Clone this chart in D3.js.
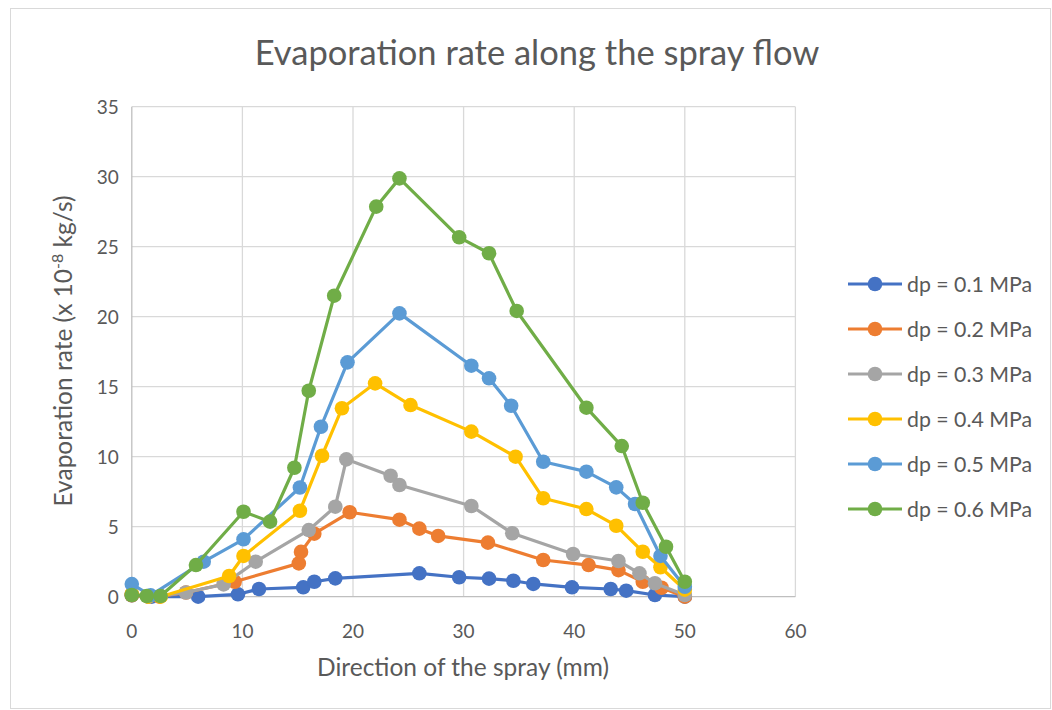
<!DOCTYPE html>
<html><head><meta charset="utf-8">
<script src="https://cdn.jsdelivr.net/npm/d3@7"></script>
<style>body{margin:0;background:#fff;} text{font-family:Lato,"Open Sans",sans-serif;}</style>
</head><body><svg id="c" width="1052" height="710"></svg>
<script>
const seriesNames = ["dp = 0.1 MPa","dp = 0.2 MPa","dp = 0.3 MPa","dp = 0.4 MPa","dp = 0.5 MPa","dp = 0.6 MPa"];
const seriesColors = ["#4472C4","#ED7D31","#A5A5A5","#FFC000","#5B9BD5","#70AD47"];
const xTicks = [0,10,20,30,40,50,60];
const yTicks = [0,5,10,15,20,25,30,35];
const s01 = [[0,0.1],[1.8,0],[6.0,0],[9.6,0.17],[11.5,0.55],[15.5,0.67],[16.5,1.07],[18.4,1.31],[26.0,1.67],[29.6,1.39],[32.3,1.29],[34.5,1.14],[36.3,0.91],[39.8,0.67],[43.3,0.55],[44.7,0.43],[47.3,0.12],[50.0,0]];
const s02 = [[0,0.1],[1.5,0],[2.5,0],[4.9,0.3],[9.3,1.07],[15.1,2.38],[15.3,3.2],[16.5,4.5],[19.7,6.03],[24.2,5.5],[26.0,4.86],[27.7,4.34],[32.2,3.86],[37.2,2.62],[41.3,2.26],[44.0,1.9],[46.2,1.07],[47.9,0.64],[50.0,0]];
const s03 = [[0,0.2],[1.5,0],[2.6,0.05],[4.9,0.3],[8.3,0.88],[11.2,2.5],[16.0,4.76],[18.4,6.43],[19.4,9.81],[23.4,8.64],[24.2,7.98],[30.7,6.48],[34.4,4.53],[39.9,3.05],[44.0,2.55],[45.9,1.67],[47.3,0.96],[50.0,0.12]];
const s04 = [[0,0.2],[1.5,0],[2.6,0],[8.8,1.48],[10.1,2.91],[15.2,6.14],[17.2,10.07],[19.0,13.46],[22.0,15.24],[25.2,13.69],[30.7,11.79],[34.7,10.0],[37.2,7.03],[41.1,6.26],[43.8,5.07],[46.2,3.21],[47.8,2.1],[50.0,0.5]];
const s05 = [[0,0.9],[1.7,0.1],[6.5,2.5],[10.1,4.1],[15.2,7.8],[17.1,12.14],[19.5,16.74],[24.2,20.24],[30.7,16.5],[32.3,15.6],[34.3,13.64],[37.2,9.64],[41.1,8.93],[43.8,7.81],[45.5,6.62],[47.8,2.91],[50.0,0.71]];
const s06 = [[0,0.12],[1.35,0.05],[2.6,0.05],[5.8,2.26],[10.1,6.07],[12.5,5.36],[14.7,9.21],[16.0,14.71],[18.3,21.5],[22.1,27.86],[24.2,29.88],[29.6,25.67],[32.3,24.53],[34.8,20.41],[41.1,13.5],[44.3,10.76],[46.2,6.71],[48.3,3.57],[50.0,1.07]];
const allSeries = [s01,s02,s03,s04,s05,s06];

const svg = d3.select("#c");
svg.append("rect").attr("x",10.5).attr("y",8.5).attr("width",1040).attr("height",700).attr("fill","#fff").attr("stroke","#d9d9d9");
const x = d3.scaleLinear().domain([0,60]).range([131.8,795.4]);
const y = d3.scaleLinear().domain([0,35]).range([596.7,106.7]);
const txt = "#595959";

svg.append("g").selectAll("line").data(yTicks.filter(d=>d>0)).join("line")
  .attr("x1",x(0)).attr("x2",x(60)).attr("y1",d=>y(d)).attr("y2",d=>y(d)).attr("stroke","#d9d9d9").attr("stroke-width",1.3);
svg.append("g").selectAll("line").data(xTicks.filter(d=>d>0)).join("line")
  .attr("y1",y(0)).attr("y2",y(35)).attr("x1",d=>x(d)).attr("x2",d=>x(d)).attr("stroke","#d9d9d9").attr("stroke-width",1.3);
svg.append("line").attr("x1",x(0)).attr("x2",x(0)).attr("y1",y(0)).attr("y2",y(35)).attr("stroke","#bfbfbf").attr("stroke-width",1.3);
svg.append("line").attr("x1",x(0)).attr("x2",x(60)).attr("y1",y(0)).attr("y2",y(0)).attr("stroke","#bfbfbf").attr("stroke-width",1.3);

svg.append("g").selectAll("text").data(yTicks).join("text")
  .attr("x",x(0)-13).attr("y",d=>y(d)+7).attr("text-anchor","end").attr("font-size",19).attr("fill",txt).text(d=>d);
svg.append("g").selectAll("text").data(xTicks).join("text")
  .attr("x",d=>x(d)).attr("y",y(0)+41).attr("text-anchor","middle").attr("font-size",19).attr("fill",txt).text(d=>d);

svg.append("text").attr("x",537).attr("y",65).attr("text-anchor","middle").attr("font-size",34.5).attr("fill",txt).text("Evaporation rate along the spray flow");
svg.append("text").attr("x",463).attr("y",676).attr("text-anchor","middle").attr("font-size",24.5).attr("fill",txt).text("Direction of the spray (mm)");
const yt = svg.append("text").attr("transform","translate(72,351) rotate(-90)").attr("text-anchor","middle").attr("font-size",24.5).attr("fill",txt);
yt.append("tspan").text("Evaporation rate (x 10");
yt.append("tspan").attr("dy",-9).attr("font-size",16).text("-8");
yt.append("tspan").attr("dy",9).text(" kg/s)");

const line = d3.line().x(d=>x(d[0])).y(d=>y(d[1]));
allSeries.forEach((s,i)=>{
  const g = svg.append("g");
  g.append("path").attr("d",line(s)).attr("fill","none").attr("stroke",seriesColors[i]).attr("stroke-width",3.2).attr("stroke-linejoin","round");
  g.selectAll("circle").data(s).join("circle").attr("cx",d=>x(d[0])).attr("cy",d=>y(d[1])).attr("r",7.3).attr("fill",seriesColors[i]);
});

const lg = svg.append("g");
seriesNames.forEach((n,i)=>{
  const yy = 284 + i*45;
  lg.append("line").attr("x1",848).attr("x2",902).attr("y1",yy).attr("y2",yy).attr("stroke",seriesColors[i]).attr("stroke-width",3.2);
  lg.append("circle").attr("cx",875).attr("cy",yy).attr("r",7.3).attr("fill",seriesColors[i]);
  lg.append("text").attr("x",907).attr("y",yy+7.5).attr("font-size",21.3).attr("fill",txt).text(n);
});
</script></body></html>
